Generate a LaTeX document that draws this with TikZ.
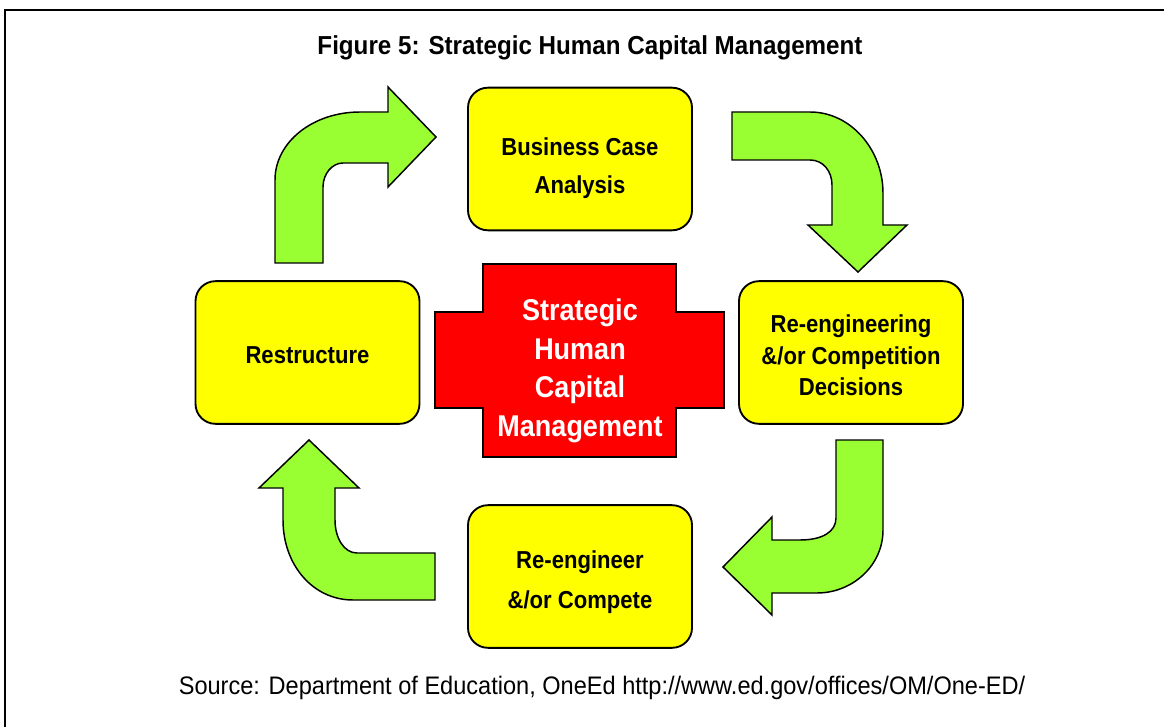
\documentclass[tikz,border=0pt]{standalone}
\usepackage{fontspec}
\setmainfont{Liberation Sans}
\newfontfamily\narrowfont[FakeStretch=0.9]{Liberation Sans}
\newfontfamily\captionfont[FakeStretch=0.93]{Liberation Sans}
\usepackage{tikz}
\usepackage{xcolor}

\definecolor{boxyellow}{HTML}{FFFF00}
\definecolor{arrowgreen}{HTML}{99FF33}
\definecolor{crossred}{HTML}{FF0000}

\begin{document}
\begin{tikzpicture}[
  x=0.75pt, y=-0.75pt,
  stagebox/.style={draw, line width=1.4pt, fill=boxyellow, rounded corners=15pt,
    minimum width=168pt, minimum height=107pt},
  stagetext/.style={align=center, text=black,
    font=\narrowfont\bfseries\fontsize{18.4}{28.5}\selectfont},
  bentarrow/.style={draw, line width=1.1pt, fill=arrowgreen, line join=miter},
  every node/.style={inner sep=0pt}
  ]
  \useasboundingbox (0,0) rectangle (1164,727);

  % frame
  \draw[line width=2.2pt] (5,727) -- (5,10) -- (1164,10);

  % title and source
  \node (title) at (590,48) {\captionfont\bfseries\fontsize{19.5}{22}\selectfont Figure 5: Strategic Human Capital Management};
  \node (source) at (602,688) {\captionfont\fontsize{19}{21}\selectfont Source: Department of Education, OneEd http://www.ed.gov/offices/OM/One-ED/};

  % the four stages
  \node[stagebox] (bca) at (580,159) {};
  \node[stagebox] (reeng) at (851,352.5) {};
  \node[stagebox] (compete) at (580,576.5) {};
  \node[stagebox] (restr) at (307.5,352.5) {};
  \node[stagetext] (bcatext) at ([yshift=-6.5pt]bca.center) {Business Case\\Analysis};
  \node[stagetext, font=\narrowfont\bfseries\fontsize{18.4}{23.6}\selectfont] (reengtext) at ([yshift=-2.2pt]reeng.center) {Re-engineering\\\&/or Competition\\Decisions};
  \node[stagetext, font=\narrowfont\bfseries\fontsize{18.4}{30}\selectfont] (competetext) at ([yshift=-4pt]compete.center) {Re-engineer\\\&/or Compete};
  \node[stagetext] (restrtext) at ([yshift=-2.2pt]restr.center) {Restructure};

  % centre cross
  \draw[line width=1.4pt, fill=crossred]
    (483,264) -- (676,264) -- (676,312) -- (724,312) -- (724,408) -- (676,408)
    -- (676,457) -- (483,457) -- (483,408) -- (435,408) -- (435,312) -- (483,312) -- cycle;
  \node[text=white, align=center, font=\narrowfont\bfseries\fontsize{22.5}{28.9}\selectfont]
    (core) at (580,371) {Strategic\\Human\\Capital\\Management};

  % bent arrows
  \draw[bentarrow] (275,263) -- (275,180) .. controls (275,142) and (313,112) .. (360,112)
    -- (388,112) -- (388,87) -- (436,137) -- (388,187) -- (388,163) -- (343,163)
    .. controls (332,163) and (323,174) .. (323,187) -- (323,263) -- cycle;
  \draw[bentarrow] (732,112) -- (810,112) .. controls (851,112) and (883,150) .. (883,193)
    -- (883,225) -- (907,225) -- (858,272) -- (808,225) -- (832,225) -- (832,185)
    .. controls (832,171) and (823,160) .. (810,160) -- (732,160) -- cycle;
  \draw[bentarrow] (836,440) -- (883,440) -- (883,530) .. controls (883,566) and (852,593) .. (817,593)
    -- (772,593) -- (772,615) -- (723,567) -- (772,517) -- (772,540) -- (800,540)
    .. controls (822,540) and (836,532) .. (836,518) -- cycle;
  \draw[bentarrow] (435,553) -- (435,600) -- (353,600) .. controls (313,600) and (283,565) .. (283,520)
    -- (283,488) -- (259,488) -- (309,440) -- (359,488) -- (335,488) -- (335,520)
    .. controls (335,538) and (344,553) .. (357,553) -- cycle;
\end{tikzpicture}
\end{document}
